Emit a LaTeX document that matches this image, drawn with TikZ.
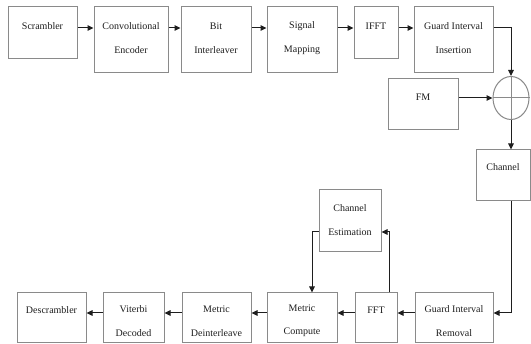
\documentclass[tikz,border=0pt]{standalone}
\usepackage{fontspec}
\setmainfont{Liberation Serif}
\usetikzlibrary{arrows.meta,shapes.geometric,calc}
\definecolor{boxgray}{HTML}{8A8A8A}
\definecolor{inkc}{HTML}{1E1E1E}
\begin{document}
\begin{tikzpicture}[x=1pt,y=-1pt,
  blk/.style={draw=boxgray, line width=1pt, inner sep=0pt, fill=white},
  txt/.style={font=\fontsize{10}{23.5}\selectfont, align=center, text=inkc, inner sep=0pt},
  arr/.style={draw=inkc, line width=1pt, -{Triangle[length=6pt,width=5.5pt]}}]
\fill[white] (0,0) rectangle (531,344);
\useasboundingbox (0,0) rectangle (531,344);
% top row
\node[blk, minimum width=69pt, minimum height=52pt] (scr) at (42.5,33) {};
\node[txt] (scrt) at (42.5,26) {Scrambler};
\node[blk, minimum width=74pt, minimum height=66pt] (enc) at (131,40) {};
\node[txt] (enct) at (131,38) {Convolutional\\Encoder};
\node[blk, minimum width=70pt, minimum height=66pt] (bit) at (216,40) {};
\node[txt] (bitt) at (216,38) {Bit\\Interleaver};
\node[blk, minimum width=70pt, minimum height=66pt] (map) at (302,40) {};
\node[txt] (mapt) at (302,38) {Signal\\Mapping};
\node[blk, minimum width=44pt, minimum height=52pt] (ifft) at (376,33) {};
\node[txt] (ifftt) at (376,26) {IFFT};
\node[blk, minimum width=79pt, minimum height=66pt] (gii) at (453.5,40) {};
\node[txt] (giit) at (453.5,38) {Guard Interval\\Insertion};
% FM, adder, channel
\node[blk, minimum width=70pt, minimum height=51pt] (fm) at (423,104.5) {};
\node[txt] (fmt) at (423,97) {FM};
\node[draw=boxgray, line width=1pt, ellipse, minimum width=36pt, minimum height=43pt, inner sep=0pt] (sum) at (511,98) {};
\draw[boxgray, line width=1pt] (sum.north) -- (sum.south) (sum.west) -- (sum.east);
\node[blk, minimum width=54pt, minimum height=51pt] (ch) at (503,175.5) {};
\node[txt] (cht) at (503,167) {Channel};
% estimation
\node[blk, minimum width=62pt, minimum height=62pt] (ce) at (350,221) {};
\node[txt] (cet) at (350,220) {Channel\\Estimation};
% bottom row
\node[blk, minimum width=69pt, minimum height=50pt] (desc) at (51.5,318) {};
\node[txt] (desct) at (51.5,310) {Descrambler};
\node[blk, minimum width=61pt, minimum height=50pt] (vd) at (133.5,318) {};
\node[txt] (vdt) at (133.5,321) {Viterbi\\Decoded};
\node[blk, minimum width=69pt, minimum height=50pt] (md) at (216.5,318) {};
\node[txt] (mdt) at (216.5,321) {Metric\\Deinterleave};
\node[blk, minimum width=70pt, minimum height=50pt] (mc) at (302,318) {};
\node[txt] (mct) at (302,321) {Metric\\Compute};
\node[blk, minimum width=42pt, minimum height=50pt] (fft) at (376,318) {};
\node[txt] (fftt) at (376,310) {FFT};
\node[blk, minimum width=78pt, minimum height=50pt] (gir) at (454,318) {};
\node[txt] (girt) at (454,321) {Guard Interval\\Removal};
% helper coordinates
\coordinate (rowA) at (0,28);
\coordinate (rowB) at (0,313);
\coordinate (rowC) at (0,232);
\coordinate (colSum) at (511,0);
\coordinate (colUp) at (389,0);
\coordinate (colDn) at (312,0);
% connectors
\draw[arr] (scr.east |- rowA) -- (enc.west |- rowA);
\draw[arr] (enc.east |- rowA) -- (bit.west |- rowA);
\draw[arr] (bit.east |- rowA) -- (map.west |- rowA);
\draw[arr] (map.east |- rowA) -- (ifft.west |- rowA);
\draw[arr] (ifft.east |- rowA) -- (gii.west |- rowA);
\draw[arr] (gii.east |- rowA) -- (colSum |- rowA) -- (sum.north);
\draw[arr] (fm.east |- sum.west) -- (sum.west);
\draw[arr] (sum.south) -- (sum.south |- ch.north);
\draw[arr] (sum.south |- ch.south) -- (sum.south |- rowB) -- (gir.east |- rowB);
\draw[arr] (gir.west |- rowB) -- (fft.east |- rowB);
\draw[arr] (fft.west |- rowB) -- (mc.east |- rowB);
\draw[arr] (mc.west |- rowB) -- (md.east |- rowB);
\draw[arr] (md.west |- rowB) -- (vd.east |- rowB);
\draw[arr] (vd.west |- rowB) -- (desc.east |- rowB);
\draw[arr] (colUp |- fft.north) -- (colUp |- rowC) -- (ce.east |- rowC);
\draw[arr] (ce.west |- rowC) -- (colDn |- rowC) -- (colDn |- mc.north);
\end{tikzpicture}
\end{document}
